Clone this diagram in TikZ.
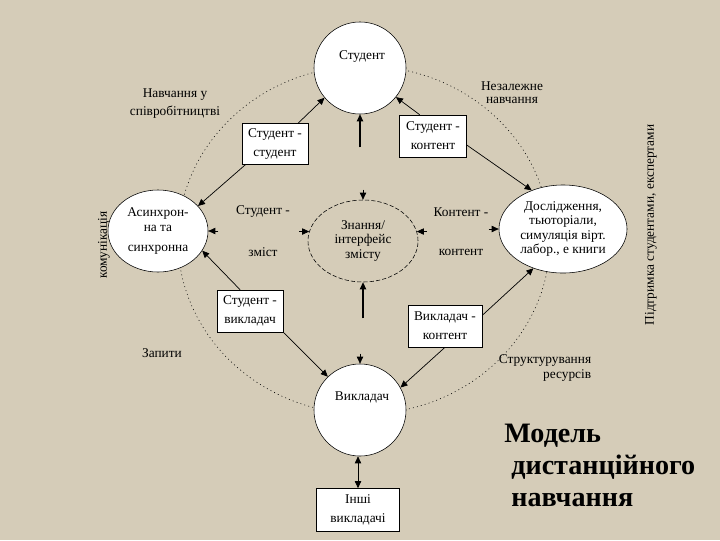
\documentclass[tikz,border=0pt]{standalone}
\usepackage{fontspec}
\setmainfont{Liberation Serif}
\usetikzlibrary{shapes.geometric,arrows.meta,calc}
\definecolor{paper}{RGB}{213,204,184}

\begin{document}
\begin{tikzpicture}[
  x=0.025cm, y=-0.025cm,
  font=\fontsize{9.5}{12}\selectfont,
  actor/.style={circle, draw, fill=white, minimum size=2.3cm, inner sep=0pt},
  oval/.style={ellipse, draw, fill=white, inner sep=0pt, align=center,
    font=\fontsize{9.5}{10.3}\selectfont},
  pair/.style={draw, fill=white, align=center, inner sep=0pt,
    font=\fontsize{9.5}{13.5}\selectfont},
  txt/.style={align=center, inner sep=0pt},
  arr/.style={-{Triangle[length=5pt,width=4.5pt]}, line width=0.5pt}
]

\fill [paper] (0,0) rectangle (720,540);
\useasboundingbox (0,0) rectangle (720,540);

% the learning cycle
\draw [dash pattern=on 0.7pt off 2.2pt] (364,240) ellipse [x radius=186, y radius=174];

\node [actor] (stud) at (360,68) {};
\node [txt] (studt) at (362,57) {Студент};
\node [actor] (teach) at (360,410) {};
\node [txt] (teacht) at (362,397) {Викладач};

\node [oval, minimum width=2.5cm, minimum height=2.05cm] (asyn) at (158,231)
  {Асинхрон-\\на та\\[4pt]синхронна};
\node [oval, fill=none, dash pattern=on 3pt off 1.5pt, minimum width=2.75cm,
  minimum height=2.05cm] (know) at (363,241) {Знання/\\інтерфейс\\змісту};
\node [oval, minimum width=3.2cm, minimum height=2.2cm] (res) at (563,229)
  {Дослідження,\\тьюторіали,\\симуляція вірт.\\лабор., е книги};

\node [pair, minimum width=1.65cm, minimum height=1.025cm] (bss) at (275,144) {Студент -\\студент};
\node [pair, minimum width=1.675cm, minimum height=1.05cm] (bsc) at (433,136) {Студент -\\контент};
\node [pair, minimum width=1.65cm, minimum height=1.05cm] (bst) at (250,311) {Студент -\\викладач};
\node [pair, minimum width=1.85cm, minimum height=1.05cm] (btc) at (445,326) {Викладач -\\контент};
\node [pair, minimum width=2.075cm, minimum height=1.075cm] (other) at (358,510) {Інші\\викладачі};

\draw [arr] (bss.42) -- (stud.220);
\draw [arr] (bss.215) -- (asyn.32);
\draw [arr] (bsc.122) -- (stud.321);
\draw [arr] (bsc.-15) -- (res.129);
\draw [arr] (bst.115) -- (asyn.336);
\draw [arr] (bst.south east) -- (teach.134);
\draw [arr] (btc.16) -- (res.233);
\draw [arr] (btc.south) -- (teach.29);

% to and from the content
\coordinate (upa) at ($(stud.south)+(0,33)$);
\coordinate (upb) at ($(know.south)+(0,36)$);
\draw [arr, line width=0.9pt] (upa) -- (stud.south);
\draw [arr] ($(know.north)+(0,-10)$) -- (know.north);
\draw [arr, line width=0.9pt] (upb) -- (know.south);
\draw [arr] ($(teach.north)+(0,-10)$) -- (teach.north);
\draw [arr] ($(asyn.east)+(10,0)$) -- (asyn.east);
\draw [arr] ($(know.170)+(-10,0)$) -- (know.170);
\draw [arr] ($(know.10)+(10,0)$) -- (know.10);
\draw [arr] ($(res.west)+(-10,0)$) -- (res.west);
\draw [{Triangle[length=5pt,width=4.5pt]}-{Triangle[length=5pt,width=4.5pt]}, line width=0.5pt]
  (other.north |- teach.south) -- (other.north);

\node [txt] (ssl) at (263,212) {Студент -};
\node [txt] (ssl2) at (263,252) {зміст};
\node [txt] (ccl) at (461,212) {Контент -};
\node [txt] (ccl2) at (461,252) {контент};

\node [txt, font=\fontsize{9.5}{12.8}\selectfont] (coop) at (175,104) {Навчання у\\співробітництві};
\node [txt, font=\fontsize{9.5}{9.5}\selectfont] (indep) at (512,93) {Незалежне\\навчання};
\node [txt] (req) at (162,353) {Запити};
\node [txt, align=right, font=\fontsize{9.5}{10}\selectfont] (struct) at (545,368) {Структурування\\ресурсів};
\node [txt, rotate=90] (comm) at (104,245) {комунікація};
\node [txt, rotate=90] (supp) at (651,225) {Підтримка студентами, експертами};

\node [txt, align=left, anchor=north west, font=\bfseries\fontsize{20}{22.8}\selectfont]
  (title) at (504,424) {Модель\\\ дистанційного\\\ навчання};

\end{tikzpicture}
\end{document}
